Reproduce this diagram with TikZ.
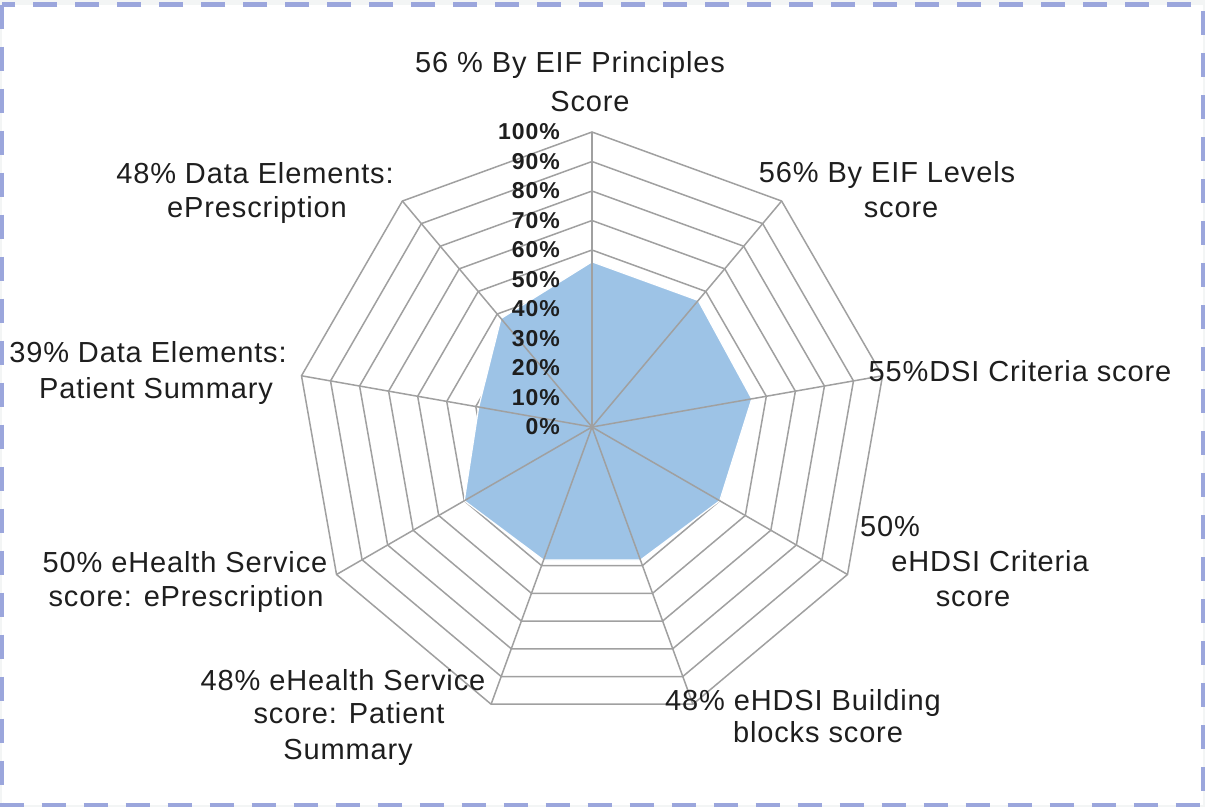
\documentclass[tikz,border=0pt]{standalone}
\usepackage{fontspec}
\setmainfont{Liberation Sans}
\newfontfamily\lblfont[LetterSpace=3]{Liberation Sans}
\newfontfamily\tickfont[LetterSpace=4]{Liberation Sans}
\definecolor{gridc}{HTML}{A0A0A0}
\definecolor{fillc}{HTML}{9DC3E6}
\definecolor{borderc}{HTML}{9BA6DC}
\definecolor{outsidec}{HTML}{F3F5F5}
\definecolor{textc}{HTML}{1E1E1E}
\tikzset{
  gridline/.style={draw=gridc, line width=1.5pt, line join=miter},
  lbl/.style={font=\lblfont\fontsize{29}{34}\selectfont, text=textc, inner sep=0pt, anchor=base},
  ticklbl/.style={font=\tickfont\bfseries\fontsize{23}{26}\selectfont, text=textc, inner sep=0pt, anchor=east},
}
\begin{document}
\begin{tikzpicture}[x=1pt,y=-1pt]
\useasboundingbox (0,0) rectangle (1205,807);
\fill[outsidec] (0,0) rectangle (1205,807);
\draw[borderc, line width=4.5pt, dash pattern=on 24pt off 18pt, fill=white] (2,4.5) rectangle (1203,805);

% centre and axis ends
\coordinate (c) at (592,427);
\foreach \i in {0,...,8}{
  \coordinate (ax\i) at ({592+295*cos(90-40*\i)},{427-295*sin(90-40*\i)});
}
% data points
\foreach \i/\v in {0/56,1/56,2/55,3/50,4/48,5/48,6/50,7/39,8/48}{
  \coordinate (d\i) at ({592+2.95*\v*cos(90-40*\i)},{427-2.95*\v*sin(90-40*\i)});
}

% grid rings
\foreach \k in {1,...,10}{
  \draw[gridline] plot[samples at={0,...,8}] ({592+29.5*\k*cos(90-40*\x)},{427-29.5*\k*sin(90-40*\x)}) -- cycle;
}
% data area (covers the rings)
\filldraw[fill=fillc, draw=white, line width=1.2pt, line join=round] (d0) -- (d1) -- (d2) -- (d3) -- (d4) -- (d5) -- (d6) -- (d7) -- (d8) -- cycle;
% spokes
\foreach \i in {0,...,8}{
  \draw[gridline] (c) -- (ax\i);
}

% tick labels
\foreach \k in {0,...,10}{
  \pgfmathtruncatemacro{\pc}{10*\k}
  \node[ticklbl] (t\k) at (560,{427-29.5*\k}) {\pc\%};
}

% category labels
\node[lbl] (p1a) at (570,72) {56 \% By EIF Principles};
\node[lbl] (p1b) at (590,111) {Score};
\node[lbl] (p2a) at (887,182) {56\% By EIF Levels};
\node[lbl] (p2b) at (901,217) {score};
\node[lbl] (p3) at (1020,381) {55\%DSI Criteria score};
\node[lbl] (p4a) at (890,536) {50\%};
\node[lbl] (p4b) at (990,571) {eHDSI Criteria};
\node[lbl] (p4c) at (973,606) {score};
\node[lbl] (p5a) at (803,710) {48\% eHDSI Building};
\node[lbl] (p5b) at (818,742) {blocks score};
\node[lbl] (p6a) at (343,690) {48\% eHealth Service};
\node[lbl] (p6b) at (349,723) {score: Patient};
\node[lbl] (p6c) at (348,759) {Summary};
\node[lbl] (p7a) at (185,572) {50\% eHealth Service};
\node[lbl] (p7b) at (186,606) {score: ePrescription};
\node[lbl] (p8a) at (148,362) {39\% Data Elements:};
\node[lbl] (p8b) at (156,398) {Patient Summary};
\node[lbl] (p9a) at (255,183) {48\% Data Elements:};
\node[lbl] (p9b) at (257,217) {ePrescription};
\end{tikzpicture}
\end{document}
